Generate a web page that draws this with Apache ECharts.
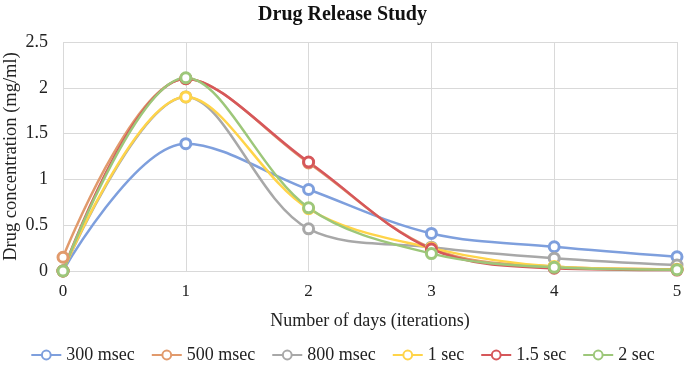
<!DOCTYPE html>
<html><head><meta charset="utf-8">
<script src="https://cdn.jsdelivr.net/npm/echarts@6/dist/echarts.min.js"></script>
<style>html,body{margin:0;padding:0;background:#fff}#c{width:685px;height:374px}</style>
</head><body><div id="c"></div>
<script>
const days = [0, 1, 2, 3, 4, 5];
const seriesNames = ['300 msec', '500 msec', '800 msec', '1 sec', '1.5 sec', '2 sec'];
const s300ms = [0, 1.39, 0.89, 0.41, 0.265, 0.155];
const s500ms = [0.15, 2.1, 1.18, 0.25, 0.05, 0.02];
const s800ms = [0, 1.9, 0.46, 0.26, 0.14, 0.065];
const s1s = [0, 1.9, 0.68, 0.25, 0.05, 0.02];
const s15s = [0, 2.1, 1.19, 0.24, 0.03, 0.01];
const s2s = [0, 2.11, 0.69, 0.19, 0.04, 0.015];
const yTicks = [0, 0.5, 1, 1.5, 2, 2.5];
const colors = ['#7e9fdd', '#e19a6c', '#a8a8a8', '#ffd449', '#d6575a', '#9dc77a'];
const allData = [s300ms, s500ms, s800ms, s1s, s15s, s2s];

const chart = echarts.init(document.getElementById('c'));
const font = '"Liberation Serif", "Times New Roman", serif';
chart.setOption({
  animation: false,
  textStyle: { fontFamily: font },
  title: { text: 'Drug Release Study', left: 'center', top: 0,
    textStyle: { fontFamily: font, fontWeight: 'bold', fontSize: 20, color: '#111' } },
  grid: { left: 63, right: 8, top: 42, bottom: 103, containLabel: false, outerBoundsMode: 'none' },
  legend: {
    bottom: 5, left: 'center', itemGap: 16, itemWidth: 30, itemHeight: 11,
    textStyle: { fontFamily: font, fontSize: 18, color: '#222' },
    data: seriesNames
  },
  xAxis: {
    type: 'value', min: 0, max: 5, interval: 1,
    name: 'Number of days (iterations)', nameLocation: 'middle', nameGap: 41,
    nameMoveOverlap: false,
    nameTextStyle: { fontFamily: font, fontSize: 18, color: '#222' },
    axisLine: { show: true, lineStyle: { color: '#d9d9d9' } },
    axisTick: { show: false },
    axisLabel: { fontFamily: font, fontSize: 17, color: '#222', margin: 12 },
    splitLine: { show: true, lineStyle: { color: '#d9d9d9' } }
  },
  yAxis: {
    type: 'value', min: 0, max: 2.5, interval: 0.5,
    name: 'Drug concentration (mg/ml)', nameLocation: 'middle', nameGap: 42,
    nameMoveOverlap: false,
    nameTextStyle: { fontFamily: font, fontSize: 18.5, color: '#222' },
    axisLine: { show: false }, axisTick: { show: false },
    axisLabel: { fontFamily: font, fontSize: 18, color: '#222', margin: 15,
      formatter: v => yTicks.includes(v) ? String(v) : '' },
    splitLine: { show: true, lineStyle: { color: '#d9d9d9' } }
  },
  series: seriesNames.map((n, i) => ({
    name: n, type: 'line', smooth: 0.35,
    data: days.map((d, k) => [d, allData[i][k]]),
    symbol: 'circle', symbolSize: 10,
    lineStyle: { width: 2.5, color: colors[i] },
    itemStyle: { color: '#fff', borderColor: colors[i], borderWidth: 3 },
    color: colors[i]
  }))
});
</script></body></html>
